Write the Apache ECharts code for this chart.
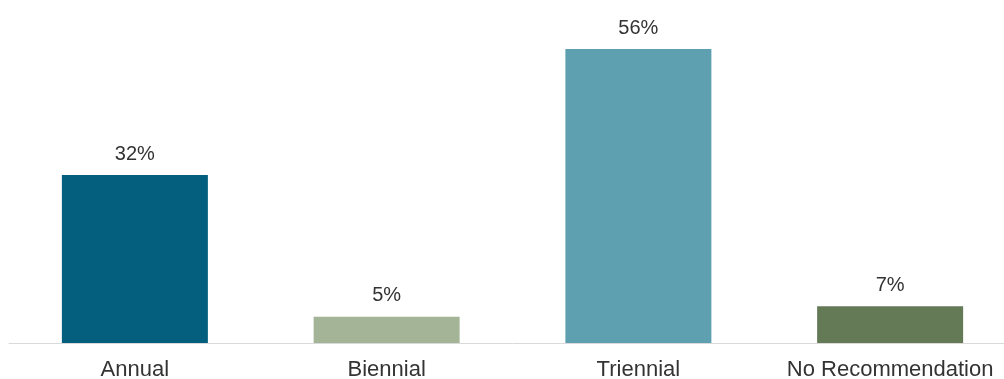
<!DOCTYPE html>
<html><head><meta charset="utf-8">
<script src="https://cdn.jsdelivr.net/npm/echarts@6/dist/echarts.min.js"></script>
<style>html,body{margin:0;padding:0;background:#fff;overflow:hidden;width:1004px;height:379px}#c{width:1016px;height:379px}</style>
</head><body><div id="c"></div>
<script>
const categories = ['Annual', 'Biennial', 'Triennial', 'No Recommendation'];
const values = [32, 5, 56, 7];
const colors = ['#045E7E', '#A3B596', '#5E9FB0', '#647A57'];

const chart = echarts.init(document.getElementById('c'));
chart.setOption({
  animation: false,
  grid: { left: 9, top: 49, right: 0, height: 294, containLabel: false, outerBoundsMode: 'none' },
  xAxis: {
    type: 'category', data: categories,
    axisLine: { lineStyle: { color: '#D9D9D9', width: 1 } },
    axisTick: { show: false },
    axisLabel: { interval: 0, hideOverlap: false, color: '#333333', fontSize: 22, fontFamily: 'Liberation Sans', margin: 16 }
  },
  yAxis: { type: 'value', min: 0, max: 56, show: false, splitLine: { show: false } },
  series: [{
    type: 'bar', barWidth: 146,
    data: values.map((v, i) => ({ value: v, itemStyle: { color: colors[i] } })),
    label: { show: true, position: 'top', distance: 11, formatter: '{c}%', color: '#333333', fontSize: 20, fontFamily: 'Liberation Sans' }
  }]
});
</script></body></html>
